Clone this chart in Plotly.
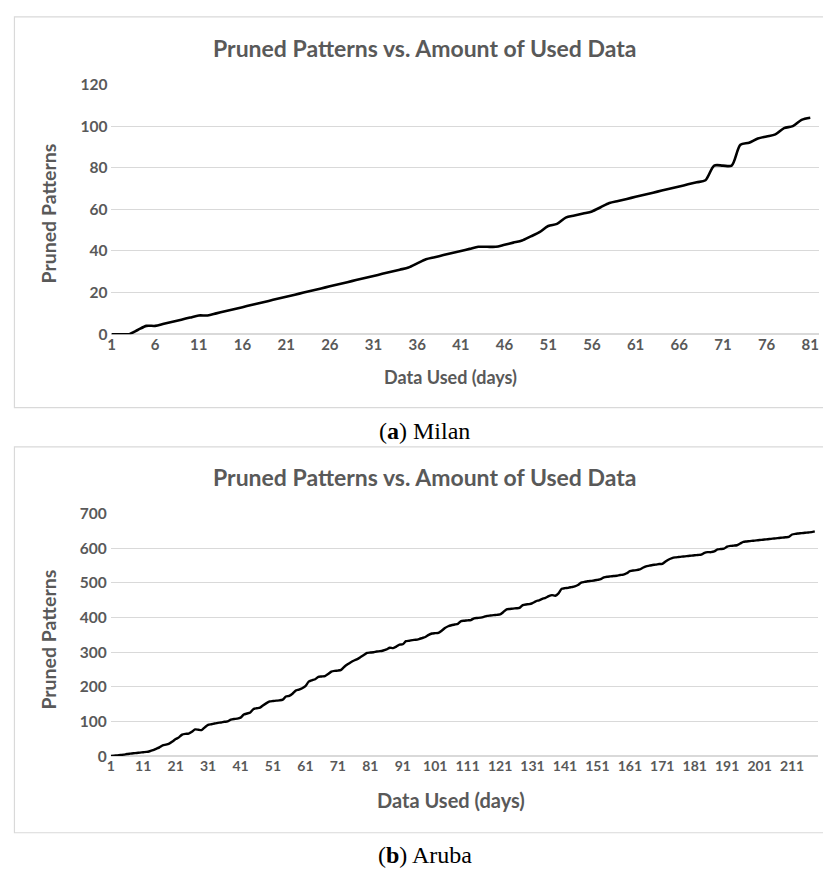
import plotly.graph_objects as go

# ---------------- data ----------------
milan_values = [
    0, 0, 0, 2, 4, 4, 5, 6, 7, 8,
    9, 9, 10, 11, 12, 13, 14, 15, 16, 17,
    18, 19, 20, 21, 22, 23, 24, 25, 26, 27,
    28, 29, 30, 31, 32, 34, 36, 37, 38, 39,
    40, 41, 42, 42, 42, 43, 44, 45, 47, 49,
    52, 53, 56, 57, 58, 59, 61, 63, 64, 65,
    66, 67, 68, 69, 70, 71, 72, 73, 74, 81,
    81, 81, 91, 92, 94, 95, 96, 99, 100, 103,
    104,
]
milan_days = list(range(1, len(milan_values) + 1))
milan_ticks = [1, 6, 11, 16, 21, 26, 31, 36, 41, 46, 51, 56, 61, 66, 71, 76, 81]
milan_yticks = [0, 20, 40, 60, 80, 100, 120]

aruba_values = [
    0, 1, 2, 3, 4, 6, 7, 8, 9, 10,
    11, 12, 14, 17, 21, 25, 31, 33, 36, 42,
    49, 54, 62, 64, 65, 70, 77, 76, 75, 83,
    90, 92, 94, 96, 97, 99, 100, 105, 107, 108,
    111, 120, 123, 126, 136, 138, 140, 147, 153, 158,
    159, 160, 161, 163, 172, 174, 180, 189, 192, 196,
    202, 215, 219, 222, 229, 230, 231, 237, 244, 246,
    247, 249, 258, 265, 271, 276, 280, 286, 292, 298,
    299, 300, 302, 303, 305, 308, 313, 312, 316, 322,
    323, 332, 333, 335, 336, 338, 341, 344, 350, 354,
    355, 356, 362, 370, 375, 378, 380, 382, 390, 391,
    392, 393, 398, 399, 400, 402, 405, 406, 407, 408,
    409, 416, 424, 425, 426, 427, 428, 436, 438, 439,
    442, 447, 450, 454, 457, 462, 465, 463, 470, 483,
    485, 486, 488, 490, 494, 501, 503, 505, 506, 507,
    509, 511, 516, 518, 519, 520, 521, 523, 524, 528,
    534, 536, 537, 539, 544, 548, 550, 552, 553, 555,
    555, 562, 568, 572, 574, 575, 576, 577, 578, 579,
    580, 581, 582, 587, 589, 589, 591, 597, 598, 599,
    605, 607, 608, 609, 614, 619, 620, 621, 622, 623,
    624, 625, 626, 627, 628, 629, 630, 631, 632, 633,
    640, 642, 643, 644, 645, 646, 647, 649,
]
aruba_days = list(range(1, len(aruba_values) + 1))
aruba_ticks = list(range(1, 212, 10))
aruba_yticks = [0, 100, 200, 300, 400, 500, 600, 700]

chart_title = "Pruned Patterns vs. Amount of Used Data"
x_title = "Data Used (days)"
y_title = "Pruned Patterns"
captions = ["(<b>a</b>) Milan", "(<b>b</b>) Aruba"]

# ---------------- figure ----------------
W, H = 823, 877
GRAY = "#595959"
GRID = "#d9d9d9"
FONT = "Lato"


def px_x(p):
    return p / W


def px_y(p):
    return 1 - p / H


fig = go.Figure()

fig.add_trace(go.Scatter(
    x=milan_days, y=milan_values, mode="lines",
    line=dict(color="black", width=2.6, shape="spline", smoothing=0.8),
    xaxis="x", yaxis="y", showlegend=False, hoverinfo="x+y"))

fig.add_trace(go.Scatter(
    x=aruba_days, y=aruba_values, mode="lines",
    line=dict(color="black", width=2.4, shape="spline", smoothing=0.6),
    xaxis="x2", yaxis="y2", showlegend=False, hoverinfo="x+y"))

xtick_top = dict(family=FONT, size=15, color=GRAY, weight="bold")
xtick_bot = dict(family=FONT, size=14, color=GRAY, weight="bold")
ytick = dict(family=FONT, size=15.5, color=GRAY, weight="bold")

fig.update_layout(
    width=W, height=H,
    margin=dict(l=0, r=0, t=0, b=0),
    paper_bgcolor="white", plot_bgcolor="white",
    font=dict(family=FONT, color=GRAY),
    xaxis=dict(
        domain=[px_x(108), px_x(819)], range=[1, len(milan_days) + 1],
        tickmode="array", tickvals=milan_ticks, ticktext=[str(t) for t in milan_ticks],
        tickfont=xtick_top, showgrid=False, zeroline=False,
        showline=False, ticks="", anchor="y", fixedrange=True,
    ),
    yaxis=dict(
        domain=[px_y(331), px_y(76)], range=[0, 120],
        tickmode="array", tickvals=milan_yticks,
        tickfont=ytick, showgrid=True, gridcolor=GRID, gridwidth=1,
        zeroline=True, zerolinecolor=GRID, zerolinewidth=1.5,
        showline=False, ticks="", anchor="x", fixedrange=True,
        ticklabelstandoff=3,
    ),
    xaxis2=dict(
        domain=[px_x(107.3), px_x(818)], range=[1, len(aruba_days) + 1],
        tickmode="array", tickvals=aruba_ticks, ticktext=[str(t) for t in aruba_ticks],
        tickfont=xtick_bot, showgrid=False, zeroline=False,
        showline=False, ticks="", anchor="y2", fixedrange=True,
    ),
    yaxis2=dict(
        domain=[px_y(761.7), px_y(514.3)], range=[0, 700],
        tickmode="array", tickvals=aruba_yticks,
        tickfont=ytick, showgrid=True, gridcolor=GRID, gridwidth=1,
        zeroline=True, zerolinecolor=GRID, zerolinewidth=1.5,
        showline=False, ticks="", anchor="x2", fixedrange=True,
        ticklabelstandoff=3,
    ),
)

# chart boxes
for (y0, y1) in [(7, 406), (446, 840)]:
    fig.add_shape(type="rect", xref="paper", yref="paper",
                  x0=px_x(10.5), x1=1.01, y0=px_y(y1), y1=px_y(y0),
                  line=dict(color=GRID, width=1.2), fillcolor="rgba(0,0,0,0)",
                  layer="below")

ann = []
# chart titles
for yc in [39, 477]:
    ann.append(dict(text=chart_title, x=px_x(423), y=px_y(yc), xref="paper", yref="paper",
                    showarrow=False, xanchor="center", yanchor="middle",
                    font=dict(family=FONT, size=23, color=GRAY, weight="bold")))
# x axis titles
for yc, sz in [(375, 18), (807, 20)]:
    ann.append(dict(text=x_title, x=px_x(449), y=px_y(yc), xref="paper", yref="paper",
                    showarrow=False, xanchor="center", yanchor="middle",
                    font=dict(family=FONT, size=sz, color=GRAY, weight="bold")))
# y axis titles
for yc in [208, 643]:
    ann.append(dict(text=y_title, x=px_x(45), y=px_y(yc), xref="paper", yref="paper",
                    showarrow=False, xanchor="center", yanchor="middle", textangle=-90,
                    font=dict(family=FONT, size=19.5, color=GRAY, weight="bold")))
# captions
for cap, yc in zip(captions, [430, 863]):
    ann.append(dict(text=cap, x=px_x(423), y=px_y(yc), xref="paper", yref="paper",
                    showarrow=False, xanchor="center", yanchor="middle",
                    font=dict(family="Liberation Serif", size=24, color="black")))

fig.update_layout(annotations=ann)

fig.write_html("out.html")
